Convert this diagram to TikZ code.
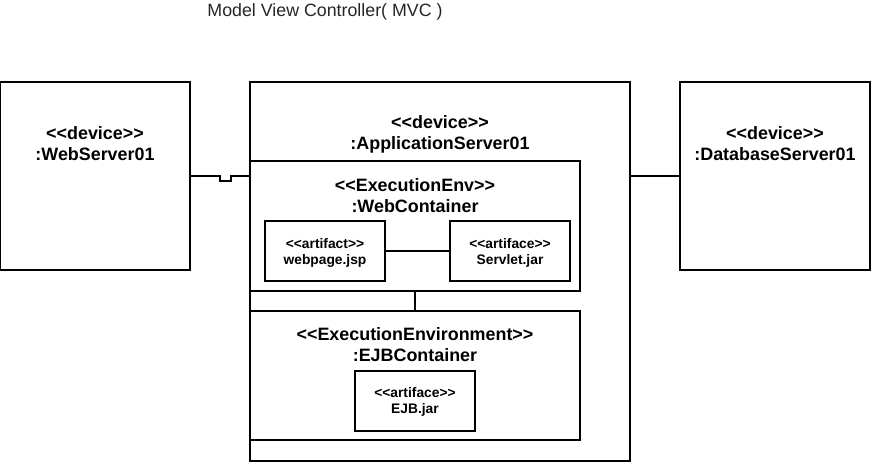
\documentclass[tikz,border=0pt]{standalone}
\usepackage{fontspec}
\newfontfamily\af{Liberation Sans}
\begin{document}
\begin{tikzpicture}[x=1pt,y=-1pt,
  box/.style={draw, line width=1.2pt, rectangle, inner sep=0pt, outer sep=0pt},
  big/.style={font=\af\bfseries\fontsize{17.9}{21}\selectfont, align=center, inner sep=0pt},
  small/.style={font=\af\bfseries\fontsize{13.8}{16}\selectfont, align=center, inner sep=0pt},
  conn/.style={line width=1.2pt}]
\useasboundingbox (0,0) rectangle (871,462);
\node[font=\af\fontsize{17.8}{21}\selectfont, inner sep=0pt, text=black!85] (title) at (325,12) {Model View Controller( MVC )};
% boxes
\node[box, minimum width=190pt, minimum height=188pt] (ws) at (95,176) {};
\node[box, minimum width=190pt, minimum height=188pt] (db) at (775,176) {};
\node[box, minimum width=380pt, minimum height=379pt] (app) at (440,271.5) {};
\node[box, minimum width=330pt, minimum height=130pt] (wc) at (415,226) {};
\node[box, minimum width=120pt, minimum height=60pt] (jsp) at (325,251) {};
\node[box, minimum width=120pt, minimum height=60pt] (srv) at (510,251) {};
\node[box, minimum width=330pt, minimum height=129pt] (ejbc) at (415,375.5) {};
\node[box, minimum width=120pt, minimum height=60pt] (ejb) at (415,401) {};
% texts
\node[big] (wst) at (95,144) {<<device>>\\:WebServer01};
\node[big] (dbt) at (775,144) {<<device>>\\:DatabaseServer01};
\node[big] (appt) at (440,134.5) {<<device>>\\:ApplicationServer01};
\node[big] (wct) at (415,195.5) {<<ExecutionEnv>>\\:WebContainer};
\node[big] (ejbct) at (415,344.5) {<<ExecutionEnvironment>>\\:EJBContainer};
\node[small] (jspt) at (325,253) {<<artifact>>\\webpage.jsp};
\node[small] (srvt) at (510,253) {<<artiface>>\\Servlet.jar};
\node[small] (ejbt) at (415,402) {<<artiface>>\\EJB.jar};
% connectors
\coordinate (h1) at (220,176);
\coordinate (h2) at (220,181);
\coordinate (h3) at (231,181);
\coordinate (h4) at (231,176);
\draw[conn] (ws.east) -- (h1) -- (h2) -- (h3) -- (h4) -- (wc.west |- ws.east);
\draw[conn] (app.east |- db.west) -- (db.west);
\draw[conn] (jsp.east) -- (srv.west);
\draw[conn] (wc.south) -- (ejbc.north);
\end{tikzpicture}
\end{document}
